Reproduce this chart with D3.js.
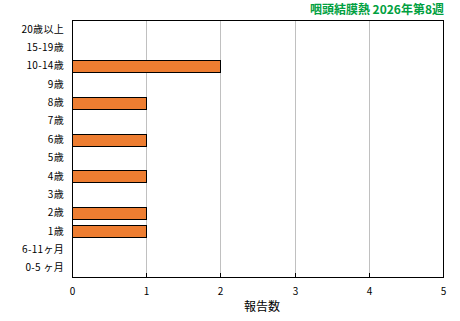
<!DOCTYPE html>
<html lang="ja">
<head>
<meta charset="UTF-8">
<title>咽頭結膜熱</title>
<script src="https://d3js.org/d3.v7.min.js"></script>
<style>
  body { margin: 0; background: #fff; }
  text { font-family: "Noto Sans CJK JP", sans-serif; fill: #000; }
</style>
</head>
<body>
<svg width="460" height="321"></svg>
<script>
const categories = ["20歳以上", "15-19歳", "10-14歳", "9歳", "8歳", "7歳", "6歳", "5歳",
                    "4歳", "3歳", "2歳", "1歳", "6-11ヶ月", "0-5 ヶ月"];
const reports = [0, 0, 2, 0, 1, 0, 1, 0, 1, 0, 1, 1, 0, 0];
const xTicks = [0, 1, 2, 3, 4, 5];
const title = "咽頭結膜熱 2026年第8週";
const xLabel = "報告数";

const svg = d3.select("svg");
const plotLeft = 72, plotRight = 443, plotTop = 20, plotBottom = 277;

const x = d3.scaleLinear().domain([0, 5]).range([plotLeft, plotRight]);
const y = d3.scaleBand().domain(categories).range([plotTop, plotBottom]).paddingInner(0.37).paddingOuter(0.185);

// grid lines
svg.append("g")
  .selectAll("line")
  .data(xTicks.slice(1, -1))
  .join("line")
  .attr("x1", d => Math.round(x(d)) + 0.5).attr("x2", d => Math.round(x(d)) + 0.5)
  .attr("y1", plotTop).attr("y2", plotBottom)
  .attr("stroke", "#c0c0c0");

// tick marks at bottom
svg.append("g")
  .selectAll("line")
  .data(xTicks)
  .join("line")
  .attr("x1", d => Math.round(x(d)) + 0.5).attr("x2", d => Math.round(x(d)) + 0.5)
  .attr("y1", plotBottom - 4).attr("y2", plotBottom)
  .attr("stroke", "#000");

// bars
svg.append("g")
  .selectAll("rect")
  .data(categories.map((c, i) => ({c, v: reports[i]})).filter(d => d.v > 0))
  .join("rect")
  .attr("x", x(0) + 0.5)
  .attr("y", d => Math.round(y(d.c)) + 0.5)
  .attr("width", d => Math.round(x(d.v) - x(0)))
  .attr("height", Math.round(y.bandwidth()))
  .attr("fill", "#ed7d31")
  .attr("stroke", "#000");

// frame
svg.append("rect")
  .attr("x", plotLeft + 0.5).attr("y", plotTop + 0.5)
  .attr("width", plotRight - plotLeft).attr("height", plotBottom - plotTop)
  .attr("fill", "none").attr("stroke", "#000");

// category labels
svg.append("g")
  .selectAll("text")
  .data(categories)
  .join("text")
  .attr("x", 64)
  .attr("y", d => y(d) + y.bandwidth() / 2)
  .attr("dy", "0.35em")
  .attr("text-anchor", "end")
  .attr("font-size", 10)
  .attr("letter-spacing", 0.3)
  .text(d => d);

// x tick labels
svg.append("g")
  .selectAll("text")
  .data(xTicks)
  .join("text")
  .attr("x", d => Math.round(x(d)) + 0.5)
  .attr("y", 295)
  .attr("text-anchor", "middle")
  .attr("font-size", 10)
  .text(d => d);

svg.append("text")
  .attr("x", 262).attr("y", 311)
  .attr("text-anchor", "middle")
  .attr("font-size", 12)
  .text(xLabel);

svg.append("text")
  .attr("x", 444).attr("y", 14)
  .attr("text-anchor", "end")
  .attr("font-size", 12)
  .attr("font-weight", "bold")
  .style("fill", "#00a040")
  .text(title);
</script>
</body>
</html>
